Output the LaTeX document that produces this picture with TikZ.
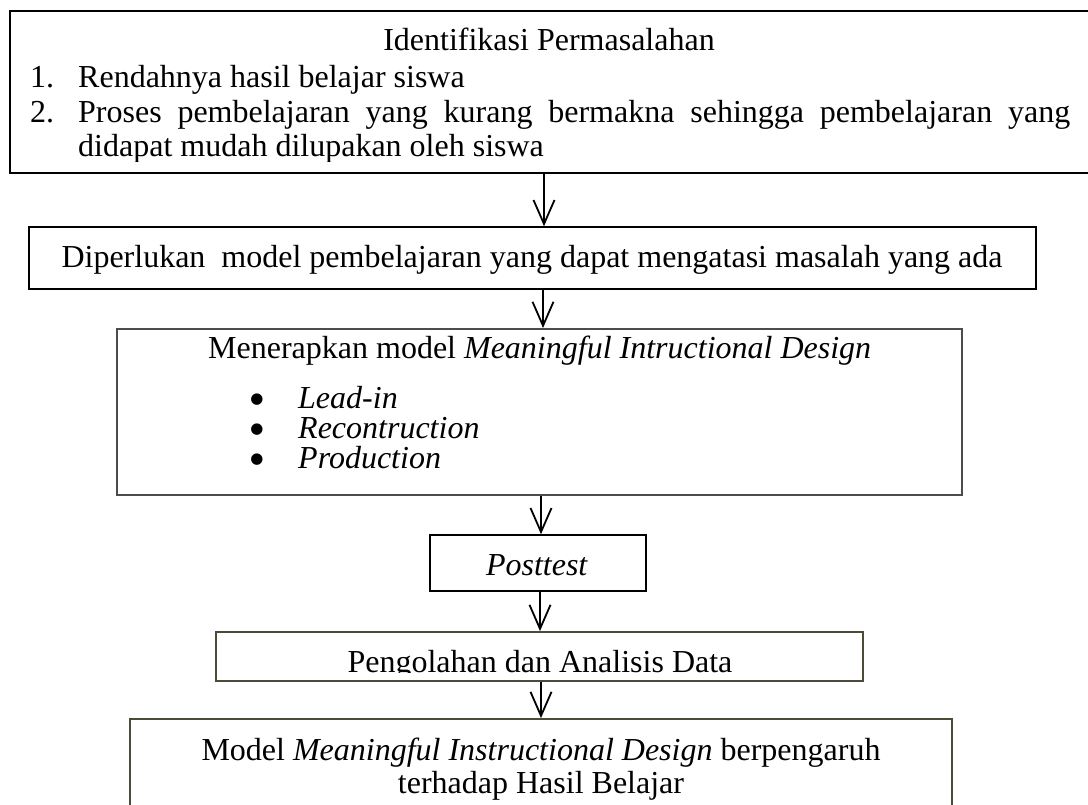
\documentclass[tikz,border=0pt]{standalone}
\usepackage{fontspec}
\setmainfont{Liberation Serif}
\newfontfamily\dejavufont{DejaVu Sans}
\usetikzlibrary{arrows.meta}
\tikzset{
  box/.style={draw=black, line width=1.5pt, inner sep=0pt, fill=none},
  greybox/.style={box, draw=black!70, line width=2pt},
  olivebox/.style={box, draw={rgb,255:red,78;green,74;blue,56}, line width=1.8pt},
  arr/.style={line width=1.8pt, -{Straight Barb[length=24pt,width=21pt,line width=1.8pt]}},
  txt/.style={inner sep=0pt, anchor=base west, font=\fontsize{32}{38}\selectfont},
  ctxt/.style={txt, anchor=base},
  dot/.style={inner sep=0pt, anchor=center, font=\dejavufont\fontsize{15}{15}\selectfont},
}
\begin{document}
\begin{tikzpicture}[x=1pt,y=-1pt]
\useasboundingbox (0,0) rectangle (1088,805);
\clip (0,0) rectangle (1088,805);
% boxes
\node[box, minimum width=1090pt, minimum height=162pt] (b1) at (555,92) {};
\node[box, minimum width=1007pt, minimum height=62pt] (b2) at (532.5,258) {};
\node[greybox, minimum width=845pt, minimum height=166pt] (b3) at (539.5,412) {};
\node[box, minimum width=216pt, minimum height=56pt] (b4) at (538,563) {};
\node[olivebox, minimum width=647pt, minimum height=49pt] (b5) at (539.5,656.5) {};
\node[olivebox, minimum width=822pt, minimum height=111pt] (b6) at (541,774.5) {};
% texts box 1
\begin{scope}
\clip (10,11) rectangle (1088,162);
\node[ctxt] (t1) at (549,51) {Identifikasi Permasalahan};
\node[txt] (n1) at (30,88) {1.};
\node[txt] (l1) at (78,88) {Rendahnya hasil belajar siswa};
\node[txt] (n2) at (30,123) {2.};
\node[txt] (l2) at (78,123) {\makebox[992pt][s]{Proses pembelajaran yang kurang bermakna sehingga pembelajaran yang}};
\node[txt] (l3) at (78,157) {didapat mudah dilupakan oleh siswa};
\end{scope}
% box 2
\node[ctxt] (t2) at (532,268) {Diperlukan\ \ model pembelajaran yang dapat mengatasi masalah yang ada};
% box 3
\begin{scope}
\clip (117,329) rectangle (962,477);
\node[txt] (t3) at (208,359) {Menerapkan model \textit{Meaningful Intructional Design}};
\node[dot] (d1) at (257,400) {●};
\node[txt] (i1) at (298,408) {\textit{Lead-in}};
\node[dot] (d2) at (257,430) {●};
\node[txt] (i2) at (298,438) {\textit{Recontruction}};
\node[dot] (d3) at (257,460) {●};
\node[txt] (i3) at (298,468) {\textit{Production}};
\end{scope}
% box 4
\node[ctxt] (t4) at (537,575) {\textit{Posttest}};
% box 5
\begin{scope}
\clip (216,632) rectangle (863,672);
\node[ctxt] (t5) at (540,672) {Pengolahan dan Analisis Data};
\end{scope}
% box 6
\begin{scope}
\clip (130,719) rectangle (952,800);
\node[ctxt] (t6) at (541,760) {Model \textit{Meaningful Instructional Design} berpengaruh};
\node[ctxt] (t7) at (541,793) {terhadap Hasil Belajar};
\end{scope}
% arrows
\coordinate (a1) at (544,0);
\coordinate (a2) at (543,0);
\coordinate (a3) at (541,0);
\coordinate (a4) at (540,0);
\coordinate (a5) at (541,0);
\draw[arr] (b1.south -| a1) -- (b2.north -| a1);
\draw[arr] (b2.south -| a2) -- (b3.north -| a2);
\draw[arr] (b3.south -| a3) -- (b4.north -| a3);
\draw[arr] (b4.south -| a4) -- (b5.north -| a4);
\draw[arr] (b5.south -| a5) -- (b6.north -| a5);
\end{tikzpicture}
\end{document}
